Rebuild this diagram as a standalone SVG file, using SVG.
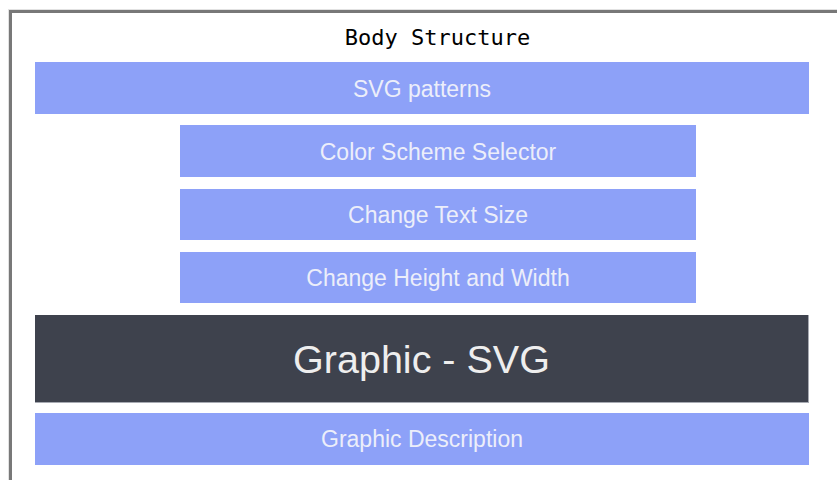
<svg xmlns="http://www.w3.org/2000/svg" width="837" height="480" viewBox="0 0 837 480">
  <style>
    .bar { fill: #8da1f8; }
    .lbl { font-family: "Liberation Sans", Arial, sans-serif; font-size: 23px; fill: #eceefa; text-anchor: middle; }
    .big { font-family: "Liberation Sans", Arial, sans-serif; font-size: 39.5px; fill: #eeeeee; text-anchor: middle; }
    .title { font-family: "DejaVu Sans Mono", "Liberation Mono", monospace; font-size: 22px; fill: #000000; text-anchor: middle; }
  </style>
  <rect x="0" y="0" width="837" height="480" fill="#ffffff"/>
  <!-- page frame -->
  <rect x="8.5" y="9.5" width="840" height="480" fill="none" stroke="#e2e2e2" stroke-width="1"/>
  <rect x="10.5" y="11.5" width="840" height="480" fill="#ffffff" stroke="#787878" stroke-width="3"/>
  <text class="title" x="437.5" y="45">Body Structure</text>

  <g id="svg-patterns">
    <rect class="bar" x="35" y="62" width="774" height="52"/>
    <text class="lbl" x="422" y="96.5">SVG patterns</text>
  </g>
  <g id="color-scheme-selector">
    <rect class="bar" x="180" y="125" width="516" height="52"/>
    <text class="lbl" x="438" y="159.5">Color Scheme Selector</text>
  </g>
  <g id="change-text-size">
    <rect class="bar" x="180" y="189" width="516" height="51"/>
    <text class="lbl" x="438" y="223">Change Text Size</text>
  </g>
  <g id="change-height-width">
    <rect class="bar" x="180" y="252" width="516" height="51"/>
    <text class="lbl" x="438" y="286">Change Height and Width</text>
  </g>
  <g id="graphic-svg">
    <rect x="35" y="315" width="774" height="88" fill="#a7aab2"/>
    <rect x="35" y="315" width="773" height="87" fill="#3e424d"/>
    <text class="big" x="421.5" y="373">Graphic - SVG</text>
  </g>
  <g id="graphic-description">
    <rect class="bar" x="35" y="413" width="774" height="52"/>
    <text class="lbl" x="422" y="447">Graphic Description</text>
  </g>
  <g id="connectors"/>
</svg>
